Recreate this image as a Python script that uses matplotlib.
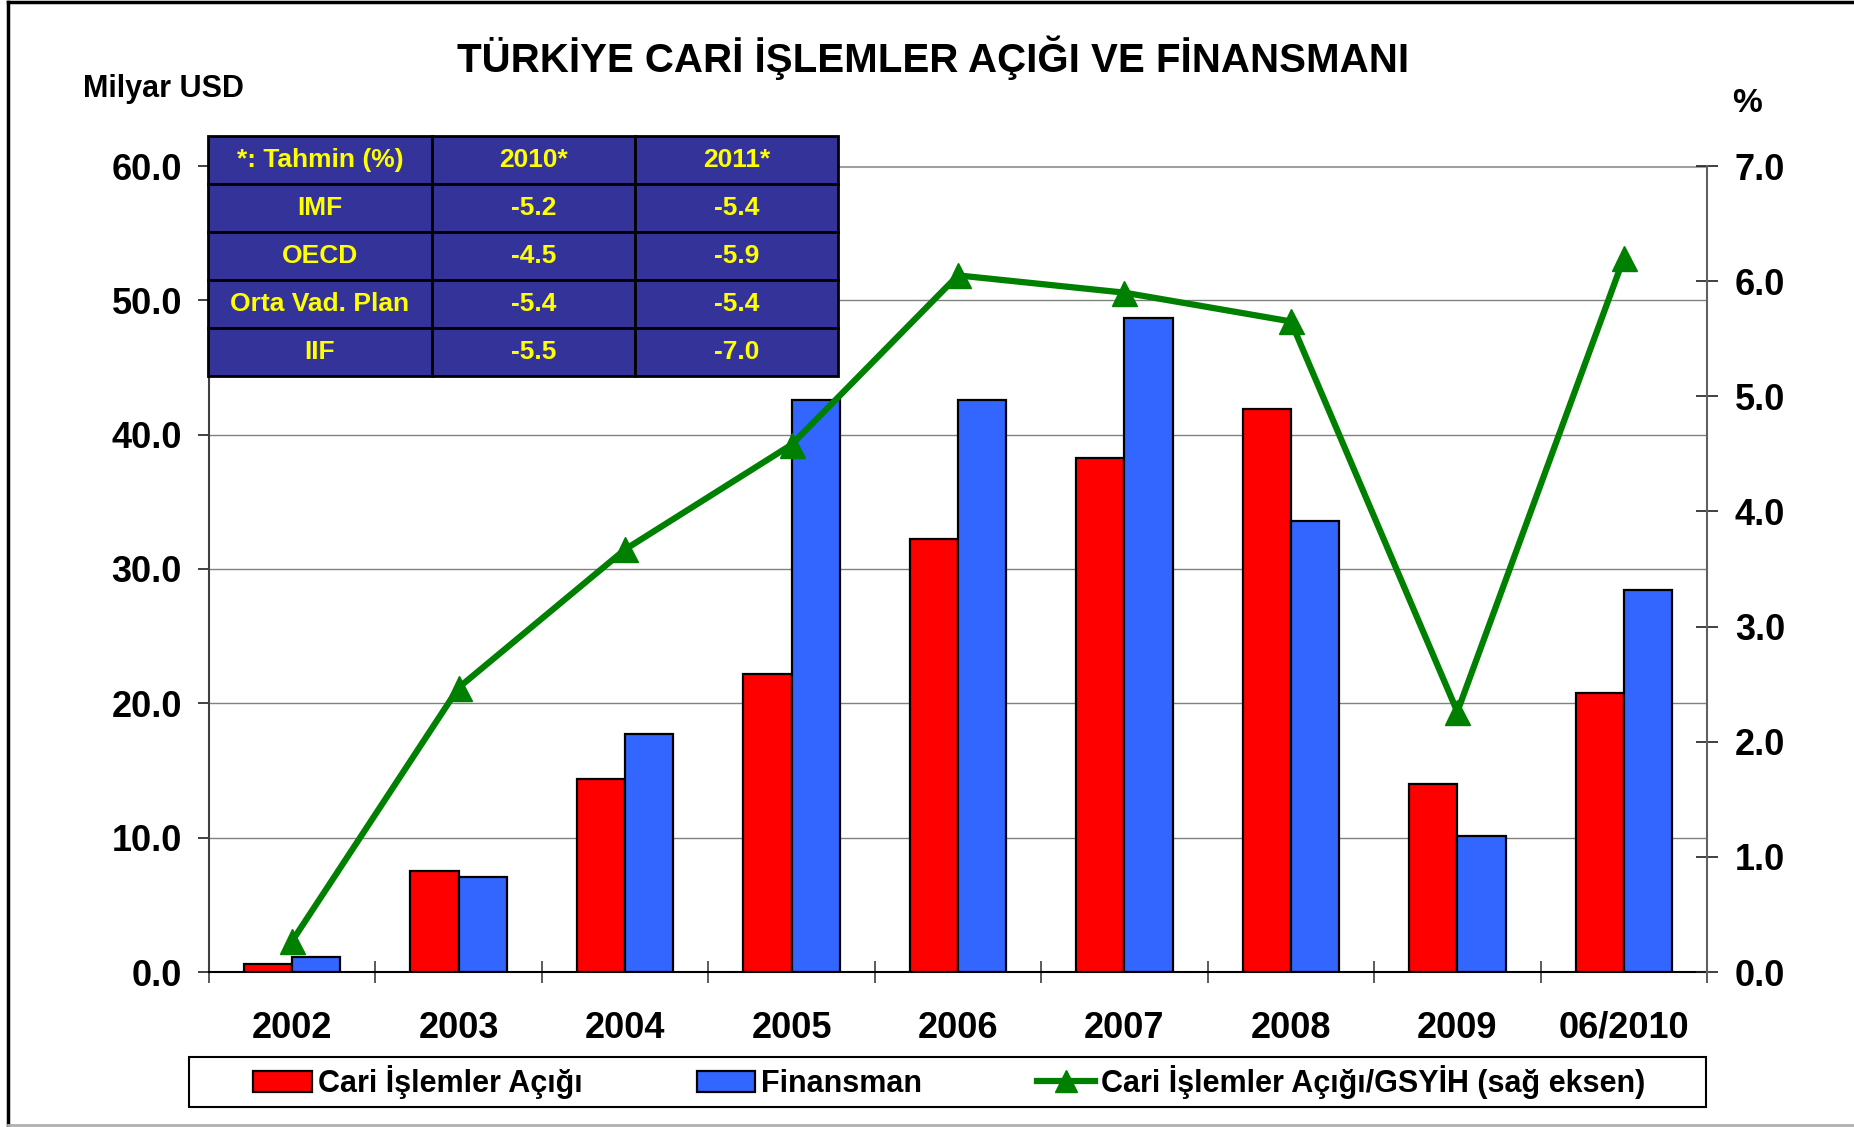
import matplotlib
matplotlib.use('Agg')
import matplotlib.pyplot as plt
from matplotlib.patches import Patch, Rectangle
from matplotlib.lines import Line2D
import numpy as np

# ---------------- data ----------------
categories = ['2002', '2003', '2004', '2005', '2006', '2007', '2008', '2009', '06/2010']
cari_acik = [0.6, 7.5, 14.4, 22.2, 32.2, 38.3, 41.9, 14.0, 20.8]
finansman = [1.1, 7.1, 17.7, 42.6, 42.6, 48.7, 33.6, 10.1, 28.4]
acik_gsyih = [0.27, 2.47, 3.67, 4.58, 6.05, 5.9, 5.65, 2.26, 6.2]
left_ticks = [0, 10, 20, 30, 40, 50, 60]
right_ticks = [0, 1, 2, 3, 4, 5, 6, 7]

table_header = ['*: Tahmin (%)', '2010*', '2011*']
table_rows = ['IMF', 'OECD', 'Orta Vad. Plan', 'IIF']
table_2010 = ['-5.2', '-4.5', '-5.4', '-5.5']
table_2011 = ['-5.4', '-5.9', '-5.4', '-7.0']

title = 'TÜRKİYE CARİ İŞLEMLER AÇIĞI VE FİNANSMANI'
legend_labels = ['Cari İşlemler Açığı', 'Finansman', 'Cari İşlemler Açığı/GSYİH (sağ eksen)']

# ---------------- style ----------------
plt.rcParams['font.family'] = ['Liberation Sans', 'DejaVu Sans']
plt.rcParams['font.weight'] = 'bold'

W, H = 1854, 1127
fig = plt.figure(figsize=(W / 100, H / 100), dpi=100)
fig.patch.set_facecolor('white')

ax_l = 209 / W
ax_r = 1707 / W
ax_b = 1 - 972 / H
ax_t = 1 - 166 / H
ax = fig.add_axes([ax_l, ax_b, ax_r - ax_l, ax_t - ax_b])

x = np.arange(len(categories))
bw = 0.29
ax.bar(x - bw / 2, cari_acik, width=bw, color='#FF0000', edgecolor='black', linewidth=1.6, zorder=3)
ax.bar(x + bw / 2, finansman, width=bw, color='#3366FF', edgecolor='black', linewidth=1.6, zorder=3)

ax.set_xlim(-0.5, len(categories) - 0.5)
ax.set_ylim(0, 60)
ax.set_yticks(left_ticks)
ax.set_yticklabels([f'{v:.1f}' for v in left_ticks])
for v in left_ticks[1:-1]:
    ax.axhline(v, color='#808080', lw=1.0, zorder=1)
ax.axhline(60, color='#A0A0A0', lw=2.2, zorder=1)

ax.set_xticks(np.arange(len(categories) + 1) - 0.5)
ax.set_xticklabels([''] * (len(categories) + 1))
ax.set_xticks(x, minor=True)
ax.set_xticklabels(categories, minor=True)
ax.tick_params(axis='x', which='major', direction='inout', length=16, width=1.2, color='#404040')
ax.tick_params(axis='x', which='minor', length=0, pad=28, labelsize=26)
ax.tick_params(axis='y', direction='out', length=8, width=1.2, pad=11.5, labelsize=26, color='#202020')

for s in ['top', 'right']:
    ax.spines[s].set_visible(False)
ax.spines['left'].set_color('#404040')
ax.spines['left'].set_linewidth(1.5)
ax.spines['bottom'].set_color('black')
ax.spines['bottom'].set_linewidth(1.5)

ax2 = ax.twinx()
ax2.plot(x, acik_gsyih, color='#008000', lw=4.5, marker='^', markersize=18,
         markerfacecolor='#008000', markeredgecolor='#008000', zorder=4)
ax2.set_ylim(0, 7)
ax2.set_yticks(right_ticks)
ax2.set_yticklabels([f'{v:.1f}' for v in right_ticks])
ax2.tick_params(axis='y', direction='inout', length=16, width=1.2, pad=12, labelsize=26, color='#202020')
for s in ['top', 'left', 'bottom']:
    ax2.spines[s].set_visible(False)
ax2.spines['right'].set_color('#606060')
ax2.spines['right'].set_linewidth(1.5)

# ---------------- texts ----------------
fig.text(933 / W, 1 - 58 / H, title, ha='center', va='center', fontsize=29, fontweight='bold')
fig.text(83 / W, 1 - 88.5 / H, 'Milyar USD', ha='left', va='center', fontsize=22, fontweight='bold')
fig.text(1747 / W, 1 - 104 / H, '%', ha='center', va='center', fontsize=24, fontweight='bold')

# ---------------- table ----------------
tl, tr, tt, tb = 208 / W, 838 / W, 1 - 136 / H, 1 - 376 / H
axt = fig.add_axes([tl, tb, tr - tl, tt - tb])
axt.axis('off')
cell_text = [table_header] + [[r, a, b] for r, a, b in zip(table_rows, table_2010, table_2011)]
tbl = axt.table(cellText=cell_text, bbox=[0, 0, 1, 1], colWidths=[0.355, 0.3225, 0.3225],
                cellLoc='center')
tbl.auto_set_font_size(False)
for (r, c), cell in tbl.get_celld().items():
    cell.set_facecolor('#333399')
    cell.set_edgecolor('black')
    cell.set_linewidth(2.0)
    cell.get_text().set_color('#FFFF00')
    cell.get_text().set_fontsize(19)
    cell.get_text().set_fontweight('bold')

# ---------------- legend ----------------
handles = [Patch(facecolor='#FF0000', edgecolor='black', linewidth=1.6),
           Patch(facecolor='#3366FF', edgecolor='black', linewidth=1.6),
           Line2D([0], [0], color='#008000', lw=4.5, marker='^', markersize=16,
                  markerfacecolor='#008000', markeredgecolor='#008000')]
fig.legend(handles, legend_labels, loc='center', bbox_to_anchor=(0.512, 1 - 1082 / H),
           ncol=3, frameon=False, columnspacing=3.75, handlelength=1.9,
           handletextpad=0.2, numpoints=1, prop={'weight': 'bold', 'size': 22})
fig.add_artist(Rectangle((189 / W, 1 - 1107 / H), (1706 - 189) / W, 50 / H,
                         transform=fig.transFigure, fill=False, edgecolor='black', lw=1.5))

# ---------------- outer border ----------------
fig.add_artist(Line2D([8 / W, 8 / W], [2 / H, 1 - 2 / H], transform=fig.transFigure, color='black', lw=2.5))
fig.add_artist(Line2D([8 / W, 1], [1 - 2 / H, 1 - 2 / H], transform=fig.transFigure, color='black', lw=2.5))
fig.add_artist(Line2D([8 / W, 1], [2 / H, 2 / H], transform=fig.transFigure, color='#B0B0B0', lw=2))

fig.savefig('out.png', dpi=100, facecolor='white')
